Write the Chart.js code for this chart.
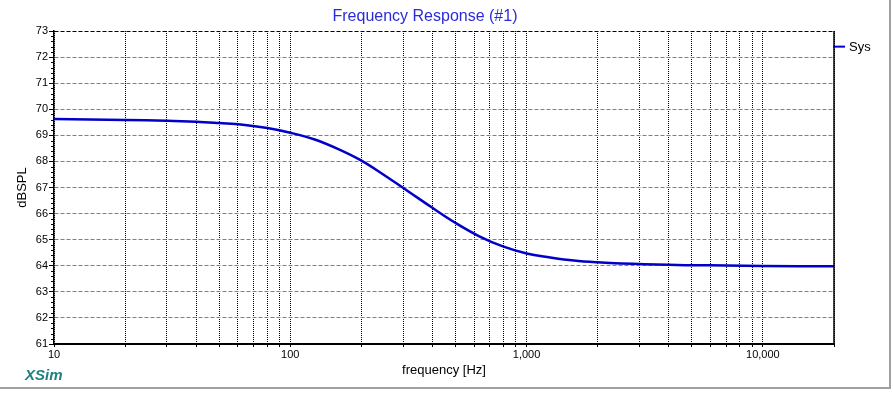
<!DOCTYPE html>
<html>
<head>
<meta charset="utf-8">
<script src="https://cdn.jsdelivr.net/npm/chart.js@4/dist/chart.umd.min.js"></script>
<style>
  html, body { margin: 0; padding: 0; background: #fff; }
  #wrap {
    width: 889px; height: 387px;
    border-right: 2px solid #a0a0a0;
    border-bottom: 2px solid #a0a0a0;
  }
</style>
</head>
<body>
<div id="wrap"><canvas id="fr" width="889" height="387"></canvas></div>
<script>
// frequency response (Hz, dB SPL)
const freqs = [10, 20, 30, 40, 50, 63, 80, 100, 126, 158, 200, 251, 316, 398, 501, 631, 794,
  1000, 1259, 1585, 1995, 2512, 3162, 3981, 5012, 7000, 10000, 20000];
const splSys = [69.63, 69.59, 69.56, 69.52, 69.47, 69.41, 69.28, 69.10, 68.85, 68.49, 68.03, 67.46, 66.85,
  66.23, 65.64, 65.13, 64.74, 64.47, 64.32, 64.20, 64.13, 64.09, 64.06, 64.04, 64.02, 64.01, 63.99, 63.98];

const seriesName = 'Sys';
const chartTitle = 'Frequency Response (#1)';
const brand = 'XSim';

// x grid lines (1-2-3...9 per decade) and the labelled decades
const xGrid = [10, 20, 30, 40, 50, 60, 70, 80, 90,
  100, 200, 300, 400, 500, 600, 700, 800, 900,
  1000, 2000, 3000, 4000, 5000, 6000, 7000, 8000, 9000,
  10000, 20000];
const xLabels = [10, 100, 1000, 10000];

const yMin = 61, yMax = 73;

const FONT = "'Liberation Sans', Arial, sans-serif";
const lineColor = '#0000c8';

// title, legend, brand mark, right frame edge, minor y ticks
const decorations = {
  id: 'decorations',
  afterDraw(chart) {
    const { ctx, chartArea } = chart;
    const y = chart.scales.y;
    ctx.save();

    // right edge of the plot frame
    ctx.strokeStyle = '#000';
    ctx.lineWidth = 1.5;
    ctx.beginPath();
    ctx.moveTo(chartArea.right, chartArea.top);
    ctx.lineTo(chartArea.right, chartArea.bottom);
    ctx.stroke();

    // minor y ticks every 0.2
    ctx.lineWidth = 1;
    ctx.beginPath();
    for (let v = yMin; v < yMax; v += 1) {
      for (let k = 1; k < 5; k++) {
        const py = Math.round(y.getPixelForValue(v + k * 0.2)) + 0.5;
        ctx.moveTo(chartArea.left - 3, py);
        ctx.lineTo(chartArea.left, py);
      }
    }
    ctx.stroke();

    // title
    ctx.fillStyle = '#2b2bd8';
    ctx.font = '16px ' + FONT;
    ctx.textAlign = 'center';
    ctx.textBaseline = 'middle';
    ctx.fillText(chartTitle, 425, 17);

    // legend entry
    const ly = y.getPixelForValue(72.4);
    ctx.strokeStyle = chart.data.datasets[0].borderColor;
    ctx.lineWidth = 2;
    ctx.beginPath();
    ctx.moveTo(chartArea.right - 1, ly);
    ctx.lineTo(chartArea.right + 11, ly);
    ctx.stroke();
    ctx.fillStyle = '#000';
    ctx.font = '13px ' + FONT;
    ctx.textAlign = 'left';
    ctx.fillText(chart.data.datasets[0].label, chartArea.right + 15, ly + 1);

    // brand
    ctx.fillStyle = '#1f7f7f';
    ctx.font = 'italic bold 15px ' + FONT;
    ctx.fillText(brand, 25, 376);

    ctx.restore();
  }
};

const ctx = document.getElementById('fr').getContext('2d');
new Chart(ctx, {
  type: 'line',
  data: {
    datasets: [{
      label: seriesName,
      data: freqs.map((f, i) => ({ x: f, y: splSys[i] })),
      borderColor: lineColor,
      borderWidth: 2.5,
      pointRadius: 0,
      tension: 0.4,
      fill: false
    }]
  },
  options: {
    responsive: false,
    animation: false,
    layout: { padding: { top: 31, right: 55, left: 0, bottom: 0 } },
    plugins: {
      legend: { display: false },
      title: { display: false },
      tooltip: { enabled: false }
    },
    scales: {
      x: {
        type: 'logarithmic',
        min: 10,
        max: 20000,
        afterBuildTicks: (s) => { s.ticks = xGrid.map(v => ({ value: v })); },
        afterFit: (s) => { s.height = 43; },
        ticks: {
          autoSkip: false,
          maxRotation: 0,
          minRotation: 0,
          padding: 1,
          color: '#000',
          font: { family: FONT, size: 11 },
          callback: (v) => xLabels.includes(v) ? v.toLocaleString('en-US') : ''
        },
        grid: {
          color: '#000',
          lineWidth: 1,
          tickLength: 3,
          tickColor: '#000'
        },
        border: { display: true, color: '#000', width: 2, dash: [1, 1] },
        title: {
          display: true,
          text: 'frequency [Hz]',
          color: '#000',
          font: { family: FONT, size: 13 },
          padding: { top: 0, bottom: 9 }
        }
      },
      y: {
        min: yMin,
        max: yMax,
        afterFit: (s) => { s.width = 54; },
        ticks: {
          stepSize: 1,
          padding: 1,
          color: '#000',
          font: { family: FONT, size: 11 }
        },
        grid: {
          color: (c) => c.tick && c.tick.value === yMax ? '#000' : '#808080',
          lineWidth: 1,
          tickLength: 5,
          tickColor: '#000'
        },
        border: { display: true, color: '#000', width: 1.5, dash: [4, 2] },
        title: {
          display: true,
          text: 'dBSPL',
          color: '#000',
          font: { family: FONT, size: 13 },
          padding: { top: 15, bottom: 0 }
        }
      }
    }
  },
  plugins: [decorations]
});
</script>
</body>
</html>
